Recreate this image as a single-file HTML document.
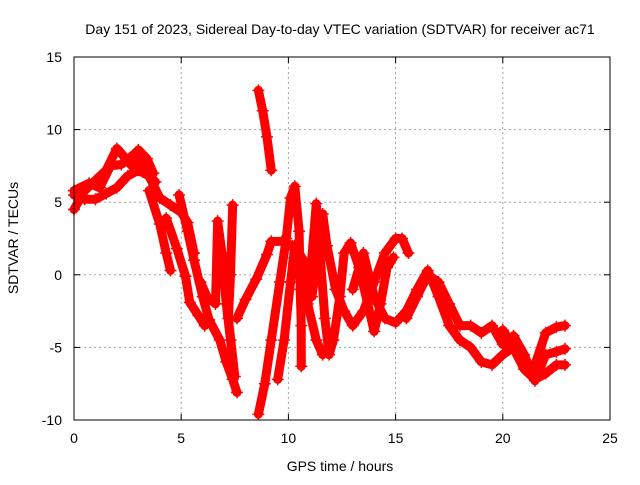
<!DOCTYPE html>
<html><head><meta charset="utf-8"><style>
body{margin:0;background:#fff;}
svg text{font-family:"Liberation Sans",sans-serif;font-size:14px;fill:#000;}
</style></head><body>
<svg id="chart" width="640" height="480">
<text x="340" y="34" text-anchor="middle">Day 151 of 2023, Sidereal Day-to-day VTEC variation (SDTVAR) for receiver ac71</text>
<g id="grid"></g>
<g id="axes"></g>
<g id="marks"></g>
<rect x="74" y="57" width="536" height="363" fill="none" stroke="#000" stroke-width="1"/>
<text x="340" y="471" text-anchor="middle">GPS time / hours</text>
<text transform="translate(18,238) rotate(-90)" text-anchor="middle">SDTVAR / TECUs</text>
</svg>
<script>
const xTicks=[0,5,10,15,20,25];
const yTicks=[-10,-5,0,5,10,15];
const sA=[[3.5,5.8],[4,3.5],[4.3,1.5],[4.5,0.3]];
const sB=[[4.3,3.9],[4.8,1.8],[5.2,-0.1],[5.4,-1.9],[5.8,-2.8],[6.1,-3.5]];
const sC=[[4.9,5.5],[5.3,3],[5.6,1],[6,-1.5],[6.3,-3.1],[6.8,-4.5],[7.1,-6],[7.4,-7.2],[7.6,-8.1]];
const sD=[[5.9,-0.5],[6.2,-1.5],[6.6,-2],[6.7,3.7],[6.9,1.5],[7.1,-2],[7.3,-4.5],[7.5,-7],[7.2,-3],[7.3,0],[7.4,4.8]];
const sE=[[7.6,-3],[8,-1.7],[8.5,-0.3],[9,1.4],[9.2,2.3],[9.7,2.3],[10.2,2],[10.5,0.5],[10.9,-2],[11.3,-4.5],[11.6,-5.5]];
const sF=[[8.6,-9.6],[8.9,-7.5],[9.2,-4.5],[9.6,-0.5],[9.9,2.5],[10.1,5.3],[10.3,6.1],[10.5,3],[10.55,-1],[10.6,-3.5],[10.6,-6.3]];
const sG=[[9.5,-7.2],[9.8,-4.5],[10.1,-0.5],[10.3,2],[10.7,1],[11.1,-1.5],[11.4,2],[11.6,4.2],[11.8,2],[12.2,-1],[12.6,-2.5],[13,-3.5],[13.5,-2.5],[14,-0.5],[14.5,1.5],[15,2.5],[15.3,2.5],[15.6,1.5]];
const sH=[[11,-0.5],[11.3,4.9],[11.5,1],[11.7,-3],[11.9,-5.5],[12.1,-4.5],[12.4,-1.5],[12.6,1.5],[12.9,2.2],[13.3,0.5],[13.7,-2],[14,-3.9],[14.3,-2],[14.6,0.5],[14.9,1.2]];
const sI=[[8.6,12.7],[8.8,11.3],[9,9.5],[9.2,7.2]];
const sJ=[[13,-1],[13.5,1.5],[14,-1.5],[14.5,-3],[15,-3.3],[15.5,-2.5],[16,-1],[16.5,0.3],[17,-1.5],[17.5,-3.5],[18,-4.5],[18.5,-5],[19,-6],[19.5,-6.2],[20,-5.5],[20.5,-5],[21,-6.5],[21.5,-7.2],[22,-6.8],[22.5,-6.2],[22.9,-6.2]];
const sK=[[15.5,-3],[16,-1.5],[16.5,0],[17,-0.5],[17.5,-2],[18,-3.5],[18.5,-3.5],[19,-4],[19.5,-3.5],[20,-4.8],[20.5,-4.2],[21,-5.5],[21.5,-7.3],[22,-5.5],[22.5,-5.3],[22.9,-5.1]];
const sL=[[20,-3.8],[20.3,-4.5],[21,-6.5],[21.5,-6.2],[22,-4],[22.5,-3.6],[22.9,-3.5]];
const sM=[[0,5.5],[0.5,5.2],[1,5.2],[1.5,5.6],[2,6],[2.5,6.8],[3,7.2],[3.5,6.8],[4,5.3],[4.5,4.8],[5,4.3],[5.3,3.6],[5.6,1.5]];
const sN=[[0,4.5],[0.5,5.8],[1,6.5],[1.5,7.2],[2,8.7],[2.3,8.2],[2.7,7.5],[3,8.6],[3.4,8],[3.7,7]];
const sO=[[0,5.8],[0.7,6.3],[1.2,6],[1.7,7.5],[2.2,7.6],[2.8,8.3],[3.2,7.3],[3.8,6.4]];
const series=[sA,sB,sC,sD,sE,sF,sG,sH,sI,sJ,sK,sL,sM,sN,sO];
const X0=74,X1=610,Y0=420,Y1=57;
function xs(h){return X0+(h-0)/25*(X1-X0);}
function ys(v){return Y0-(v+10)/25*(Y0-Y1);}
const NS='http://www.w3.org/2000/svg';
const grid=document.getElementById('grid'),axes=document.getElementById('axes'),marks=document.getElementById('marks');
function mk(t,a,p){const e=document.createElementNS(NS,t);for(const k in a)e.setAttribute(k,a[k]);p.appendChild(e);return e;}
xTicks.forEach(t=>{const x=xs(t);
 if(t>0&&t<25){const g=mk('line',{x1:x,x2:x,y1:Y1,y2:Y0,stroke:'#a0a0a0','stroke-dasharray':'2,3'},grid);
 
 }
 mk('line',{x1:x,x2:x,y1:Y0,y2:Y0-6,stroke:'#000'},axes);mk('line',{x1:x,x2:x,y1:Y1,y2:Y1+6,stroke:'#000'},axes);
 const tx=mk('text',{x:x,y:443,'text-anchor':'middle'},axes);tx.textContent=t;
 
 });
yTicks.forEach(t=>{const y=ys(t);
 if(t>-10&&t<15){const g=mk('line',{x1:X0,x2:X1,y1:y,y2:y,stroke:'#a0a0a0','stroke-dasharray':'2,3'},grid);
 
 }
 mk('line',{x1:X0,x2:X0+6,y1:y,y2:y,stroke:'#000'},axes);mk('line',{x1:X1,x2:X1-6,y1:y,y2:y,stroke:'#000'},axes);
 const tx=mk('text',{x:62,y:y+5,'text-anchor':'end'},axes);tx.textContent=t;
 
 });
series.forEach((s,i)=>{
 const pl=mk('polyline',{points:s.map(p=>xs(p[0])+','+ys(p[1])).join(' '),fill:'none',stroke:'#ff0000','stroke-width':9,'stroke-linejoin':'round','stroke-linecap':'round'},marks);
 
 
 s.forEach(p=>{const x=xs(p[0]),y=ys(p[1]);
  const m=mk('path',{d:`M${x-6},${y}H${x+6}M${x},${y-6}V${y+6}`,stroke:'#ff0000','stroke-width':1.5},marks);
  
  });
});
</script>
</body></html>
